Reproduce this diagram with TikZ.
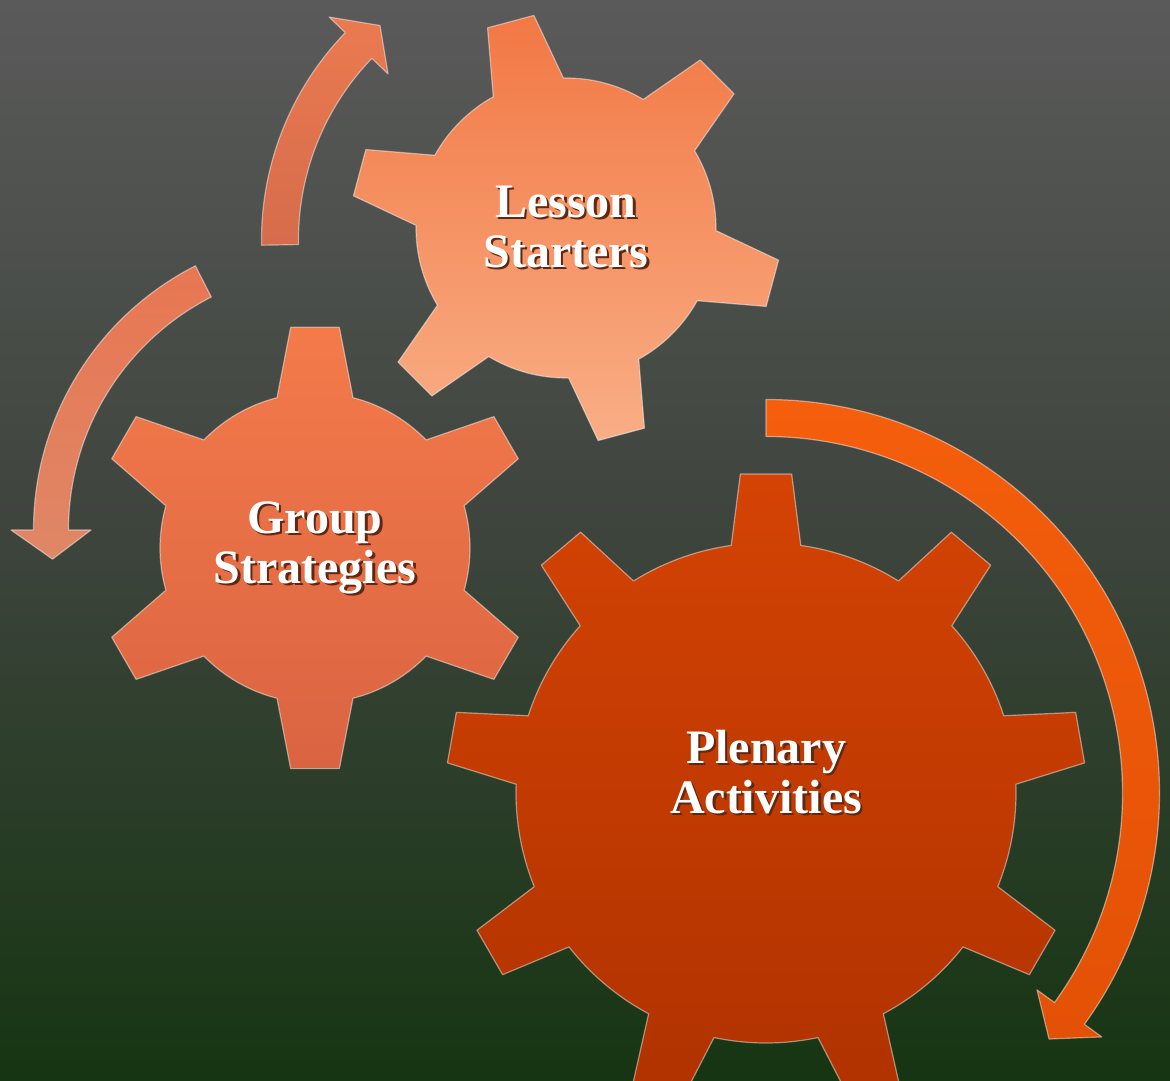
\documentclass[tikz,border=0pt]{standalone}
\usepackage{fontspec}
\setmainfont{Liberation Serif}

\definecolor{bgtop}{HTML}{5A5A5A}
\definecolor{bgmid}{HTML}{3D443C}
\definecolor{bgbot}{HTML}{163512}
\definecolor{starterstop}{HTML}{F27844}
\definecolor{startersbot}{HTML}{F9AE86}
\definecolor{grouptop}{HTML}{F47A4A}
\definecolor{groupbot}{HTML}{DA6442}
\definecolor{plenarytop}{HTML}{D44304}
\definecolor{plenarybot}{HTML}{B03200}
\definecolor{uptop}{HTML}{EA7A50}
\definecolor{upbot}{HTML}{D66C4C}
\definecolor{downtop}{HTML}{E87652}
\definecolor{downbot}{HTML}{DF8766}
\definecolor{roundtop}{HTML}{F45E0C}
\definecolor{roundbot}{HTML}{E35106}
\definecolor{textshade}{HTML}{5E2812}

% cog outline: teeth, first tooth angle, root radius, tip radius,
% half angle at the root, half angle at the tip
\newcommand{\cogpath}[6]{%
  ({#2-#5}:#3)
  \foreach \k [evaluate=\k as \toothangle using #2+(\k-1)*360/#1] in {1,...,#1} {
    -- ({\toothangle-#6}:#4) -- ({\toothangle+#6}:#4) -- ({\toothangle+#5}:#3)
    arc[start angle=\toothangle+#5, end angle=\toothangle+360/#1-#5, radius=#3]
  } -- cycle}

% bent arrow: mid radius, half width, tail angle, head angle, tip angle, head half width
\newcommand{\bentarrow}[6]{%
  ({#3}:{#1+#2}) arc[start angle=#3, end angle=#4, radius=#1+#2]
  -- ({#4}:{#1+#6}) -- ({#5}:#1) -- ({#4}:{#1-#6}) -- ({#4}:{#1-#2})
  arc[start angle=#4, end angle=#3, radius=#1-#2] -- cycle}

% word with a soft drop shadow behind it
\newcommand{\shadowed}[1]{\makebox[0pt][l]{\kern2.5pt\raisebox{-2.5pt}{\textcolor{textshade}{#1}}}#1}

\tikzset{
  bevel/.style={draw=white, draw opacity=.45, line width=1.2pt, line join=round},
  label text/.style={text=white, font=\bfseries\fontsize{48}{50}\selectfont, align=center}
}

\begin{document}
\begin{tikzpicture}[x=1pt, y=1pt]
    \shade[top color=bgtop, bottom color=bgbot, middle color=bgmid] (0, 0) rectangle (1170, 1080);
    \clip (0, 0) rectangle (1170, 1080);

    % arrows round the cogs
    \begin{scope}[shift={(560, 840)}]
        \shade[top color=uptop, bottom color=upbot, bevel] \bentarrow{280}{18.5}{181}{136}{130}{41};
    \end{scope}
    \begin{scope}[shift={(330, 550)}]
        \shade[top color=downtop, bottom color=downbot, bevel] \bentarrow{279}{17.5}{117}{180}{186}{40};
    \end{scope}
    \begin{scope}[shift={(766, 287)}]
        \shade[top color=roundtop, bottom color=roundbot, bevel] \bentarrow{375}{18.5}{90}{-36}{-41}{40};
    \end{scope}

    % cogs
    \begin{scope}[shift={(566, 852)}]
        \shade[top color=starterstop, bottom color=startersbot, bevel] \cogpath{6}{45}{150}{215}{14}{6.4};
        \node[label text] (starters) at (0, 0) {\shadowed{Lesson}\\\shadowed{Starters}};
    \end{scope}

    \begin{scope}[shift={(315, 532)}]
        \shade[top color=grouptop, bottom color=groupbot, bevel] \cogpath{6}{90}{155}{222}{14.2}{6.3};
        \node[label text] (group) at (0, -1) {\shadowed{Group}\\\shadowed{Strategies}};
    \end{scope}

    \begin{scope}[shift={(766, 287)}]
        \shade[top color=plenarytop, bottom color=plenarybot, bevel] \cogpath{9}{90}{250}{320}{8}{4.6};
        \node[label text] (plenary) at (0, 20) {\shadowed{Plenary}\\\shadowed{Activities}};
    \end{scope}
\end{tikzpicture}
\end{document}
